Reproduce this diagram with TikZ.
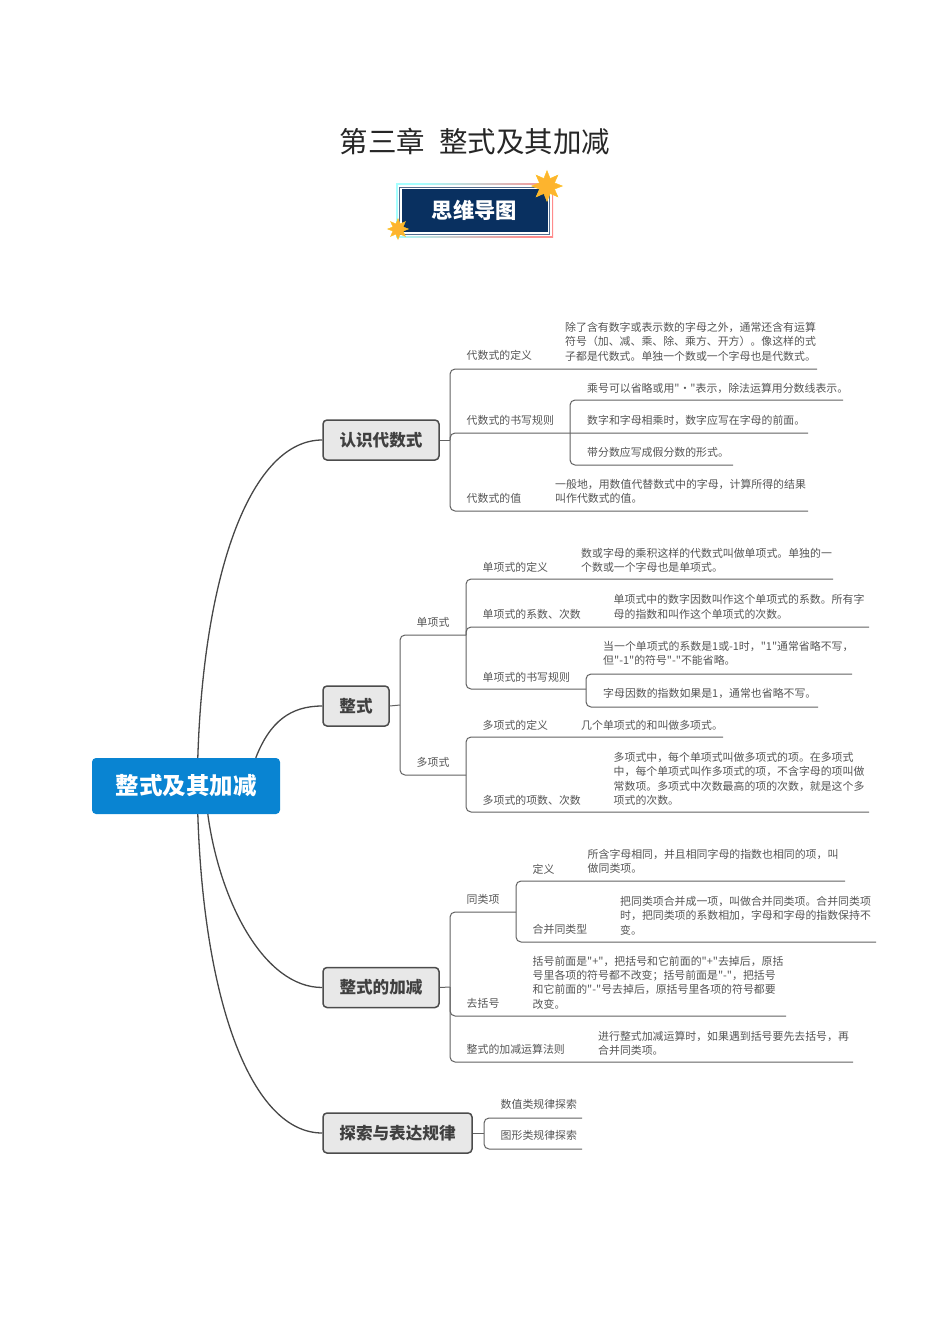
\documentclass[tikz,border=0pt]{standalone}
\usepackage{fontspec}
\setmainfont{Noto Sans CJK SC}[Ligatures=TeXOff]
\definecolor{rootblue}{RGB}{9, 132, 210}
\definecolor{navy}{RGB}{9, 48, 96}
\definecolor{inkgray}{RGB}{85, 85, 85}
\definecolor{stargold}{RGB}{253, 180, 46}
\usetikzlibrary{shapes.geometric, calc}

\begin{document}
\begin{tikzpicture}[
        x=1pt, y=-1pt,
        every node/.style={inner sep=0pt, align=left, text=inkgray, font=\fontsize{10.9}{14.4}\selectfont},
        root/.style={fill=rootblue, rounded corners=4pt, minimum width=188pt, minimum height=56pt, align=center, text=white, font=\fontsize{23.5}{28}\selectfont\bfseries},
        topic/.style={draw=black!70, line width=1.5pt, fill=black!9, rounded corners=4pt, minimum height=40pt, align=center, text=black!75, font=\fontsize{16.6}{20}\selectfont\bfseries},
        leaf/.style={anchor=west},
        plate/.style={minimum width=#1pt, minimum height=#1pt-103pt},
        trunk/.style={draw=black!72, line width=1.3pt},
        rule/.style={draw=black!62, line width=1pt, rounded corners=5pt},
        burst/.style={star, star points=8, star point ratio=1.9, fill=stargold, draw=stargold!80!yellow, line width=.4pt}
      ]
      \useasboundingbox (0,0) rectangle (950,1344);

      % title and badge
      \node[align=center, text=black!85, font=\fontsize{28.5}{34}\selectfont] (title) at (475,142) {第三章\hspace{0.5em}整式及其加减};
      \node[plate=157, left color=cyan!35, middle color=green!25!yellow!35, right color=red!45, shading angle=62] (badgeouter) at (474.5,210.5) {};
      \node[plate=154, fill=white] (badgegap) at (474.5,210.5) {};
      \node[plate=151, fill=navy!70] (badgeline) at (474.5,210.5) {};
      \node[plate=149, fill=white] (badgemid) at (474.5,210.5) {};
      \node[plate=146, fill=navy, align=center, text=white, font=\fontsize{21.3}{24}\selectfont\bfseries] (badge) at (474.5,210.5) {思维导图};
      \node[burst, minimum size=31pt] (starbig) at (547,186) {};
      \node[burst, minimum size=21pt] (starsmall) at (398,229) {};

      % root and main topics
      \node[root] (main) at (186,786) {整式及其加减};
      \node[topic, minimum width=116pt] (renshi) at (381,440) {认识代数式};
      \node[topic, minimum width=66pt] (zhengshi) at (356,706) {整式};
      \node[topic, minimum width=116pt] (jiajian) at (381,987.5) {整式的加减};
      \node[topic, minimum width=149pt] (tansuo) at (397.5,1133) {探索与表达规律};

      \draw[trunk] ([xshift=106pt]main.north west) .. controls +(6,-190) and +(-70,0) .. (renshi.west);
      \draw[trunk] ([xshift=164pt]main.north west) .. controls +(14,-36) and +(-32,0) .. (zhengshi.west);
      \draw[trunk] ([xshift=116pt]main.south west) .. controls +(12,88) and +(-58,0) .. (jiajian.west);
      \draw[trunk] ([xshift=106pt]main.south west) .. controls +(6,190) and +(-70,0) .. (tansuo.west);

      % first topic
      \coordinate (rjoin) at (450,440);
      \coordinate (rend1) at (817,369);
      \coordinate (rend2) at (808,433);
      \coordinate (rend3) at (808,511);
      \coordinate (rjoin2) at (570,433);
      \coordinate (rsub1) at (843,400);
      \coordinate (rsub3) at (733,465);
      \node[leaf] (rl1) at (466.5,355.5) {代数式的定义};
      \node[leaf] (rt1) at (565,341.5) {除了含有数字或表示数的字母之外，通常还含有运算\\符号（加、减、乘、除、乘方、开方）。像这样的式\\子都是代数式。单独一个数或一个字母也是代数式。};
      \node[leaf] (rl2) at (466.5,420.5) {代数式的书写规则};
      \node[leaf] (rs1) at (587,388) {乘号可以省略或用"·"表示，除法运算用分数线表示。};
      \node[leaf] (rs2) at (587,420.5) {数字和字母相乘时，数字应写在字母的前面。};
      \node[leaf] (rs3) at (587,452.5) {带分数应写成假分数的形式。};
      \node[leaf] (rl3) at (466.5,498.5) {代数式的值};
      \node[leaf] (rt3) at (555,491.5) {一般地，用数值代替数式中的字母，计算所得的结果\\叫作代数式的值。};
      \draw[rule] (renshi.east) -- (rjoin);
      \draw[rule] (rend1) -| (rjoin) |- (rend3);
      \draw[rule] (rjoin) |- (rend2);
      \draw[rule] (rsub1) -| (rjoin2) |- (rsub3);

      % second topic
      \coordinate (zjoin) at (400,705);
      \coordinate (zend1) at (466,635);
      \coordinate (zend2) at (466,775);
      \node[leaf] (zl1) at (416.5,622.5) {单项式};
      \node[leaf] (zl2) at (416.5,762.5) {多项式};
      \draw[rule] (zhengshi.east) -- (zjoin);
      \draw[rule] (zend1) -| (zjoin) |- (zend2);

      \coordinate (dan1) at (833,579);
      \coordinate (dan2) at (869,627);
      \coordinate (dan3) at (586,689);
      \coordinate (dansub1) at (852,674);
      \coordinate (dansub2) at (818,707);
      \coordinate (danjoin) at (586,689);
      \node[leaf] (da1) at (482.5,567.5) {单项式的定义};
      \node[leaf] (dt1) at (581,560.5) {数或字母的乘积这样的代数式叫做单项式。单独的一\\个数或一个字母也是单项式。};
      \node[leaf] (da2) at (482.5,614.5) {单项式的系数、次数};
      \node[leaf] (dt2) at (613.5,607) {单项式中的数字因数叫作这个单项式的系数。所有字\\母的指数和叫作这个单项式的次数。};
      \node[leaf] (da3) at (482.5,677.5) {单项式的书写规则};
      \node[leaf] (dt3) at (603,653.5) {当一个单项式的系数是1或-1时，"1"通常省略不写，\\但"-1"的符号"-"不能省略。};
      \node[leaf] (dt4) at (603,693.5) {字母因数的指数如果是1，通常也省略不写。};
      \draw[rule] (dan1) -| (zend1) |- (dan3);
      \draw[rule] (zend1) |- (dan2);
      \draw[rule] (dansub1) -| (danjoin) |- (dansub2);

      \coordinate (duo1) at (723,737);
      \coordinate (duo2) at (869,812);
      \node[leaf] (du1) at (482.5,725) {多项式的定义};
      \node[leaf] (ut1) at (581,725) {几个单项式的和叫做多项式。};
      \node[leaf] (du2) at (482.5,800.5) {多项式的项数、次数};
      \node[leaf] (ut2) at (613.5,779) {多项式中，每个单项式叫做多项式的项。在多项式\\中，每个单项式叫作多项式的项，不含字母的项叫做\\常数项。多项式中次数最高的项的次数，就是这个多\\项式的次数。};
      \draw[rule] (duo1) -| (zend2) |- (duo2);

      % third topic
      \coordinate (jjoin) at (450,987);
      \coordinate (jend1) at (516,912);
      \coordinate (jend2) at (786,1016);
      \coordinate (jend3) at (853,1062);
      \coordinate (tong1) at (845,881);
      \coordinate (tong2) at (876,942);
      \node[leaf] (jl1) at (466.5,899.5) {同类项};
      \node[leaf] (tl1) at (532.5,869.5) {定义};
      \node[leaf] (tt1) at (587.5,861.5) {所含字母相同，并且相同字母的指数也相同的项，叫\\做同类项。};
      \node[leaf] (tl2) at (532.5,929.5) {合并同类型};
      \node[leaf] (tt2) at (620,915.5) {把同类项合并成一项，叫做合并同类项。合并同类项\\时，把同类项的系数相加，字母和字母的指数保持不\\变。};
      \node[leaf] (jl2) at (466.5,1003.5) {去括号};
      \node[leaf] (jt2) at (532.5,982.5) {括号前面是"+"，把括号和它前面的"+"去掉后，原括\\号里各项的符号都不改变；括号前面是"-"，把括号\\和它前面的"-"号去掉后，原括号里各项的符号都要\\改变。};
      \node[leaf] (jl3) at (466.5,1049.5) {整式的加减运算法则};
      \node[leaf] (jt3) at (598,1043.5) {进行整式加减运算时，如果遇到括号要先去括号，再\\合并同类项。};
      \draw[rule] (jiajian.east) -- (jjoin);
      \draw[rule] (jend1) -| (jjoin) |- (jend3);
      \draw[rule] (jjoin) |- (jend2);
      \draw[rule] (tong1) -| (jend1) |- (tong2);

      % fourth topic
      \coordinate (tjoin) at (484,1133);
      \coordinate (tend1) at (582,1118);
      \coordinate (tend2) at (582,1149);
      \node[leaf] (sl1) at (500.5,1104.5) {数值类规律探索};
      \node[leaf] (sl2) at (500.5,1135.5) {图形类规律探索};
      \draw[rule] (tansuo.east) -- (tjoin);
      \draw[rule] (tend1) -| (tjoin) |- (tend2);
\end{tikzpicture}
\end{document}
